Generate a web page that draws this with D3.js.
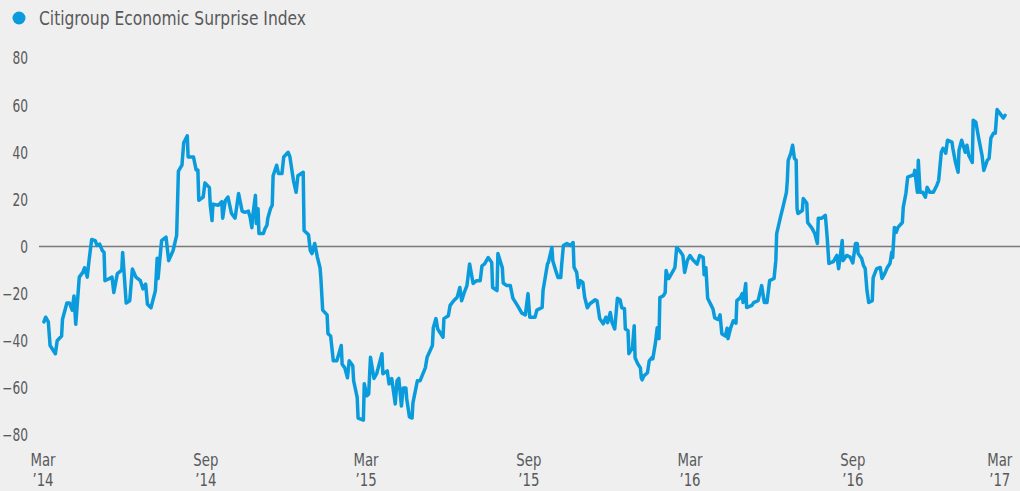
<!DOCTYPE html>
<html>
<head>
<meta charset="utf-8">
<script src="https://cdn.jsdelivr.net/npm/d3@7"></script>
<style>
  html, body { margin: 0; padding: 0; background: #efefef; }
  svg { display: block; }
  text { font-family: 'Liberation Sans Narrow', 'DejaVu Sans Condensed', 'Roboto', sans-serif; fill: #58595b; }
</style>
</head>
<body>
<svg id="chart" width="1020" height="491"></svg>
<script>
const seriesName = "Citigroup Economic Surprise Index";
const yTicks = [80, 60, 40, 20, 0, -20, -40, -60, -80];
const xTickDates = ["2014-03-01", "2014-09-01", "2015-03-01", "2015-09-01", "2016-03-01", "2016-09-01", "2017-03-01"];
const xTickMonths = ["Mar", "Sep", "Mar", "Sep", "Mar", "Sep", "Mar"];
const xTickYears = ["\u201914", "\u201914", "\u201915", "\u201915", "\u201916", "\u201916", "\u201917"];

const dates = [
"2014-03-02","2014-03-04","2014-03-07","2014-03-09","2014-03-15","2014-03-17","2014-03-22","2014-03-23","2014-03-28","2014-03-31",
"2014-04-03","2014-04-05","2014-04-07","2014-04-11","2014-04-15","2014-04-17","2014-04-20","2014-04-22","2014-04-25","2014-04-29",
"2014-05-01","2014-05-04","2014-05-07","2014-05-09","2014-05-10","2014-05-13","2014-05-18","2014-05-20","2014-05-24","2014-05-29",
"2014-05-30","2014-06-03","2014-06-07","2014-06-10","2014-06-14","2014-06-19","2014-06-22","2014-06-25","2014-06-27","2014-07-01",
"2014-07-06","2014-07-08","2014-07-09","2014-07-13","2014-07-18","2014-07-21","2014-07-26","2014-07-30","2014-08-01","2014-08-05",
"2014-08-07","2014-08-11","2014-08-12","2014-08-18","2014-08-21","2014-08-23","2014-08-24","2014-08-29","2014-08-31","2014-09-05",
"2014-09-06","2014-09-08","2014-09-09","2014-09-15","2014-09-19","2014-09-20","2014-09-23","2014-09-26","2014-09-30","2014-10-04",
"2014-10-08","2014-10-12","2014-10-15","2014-10-19","2014-10-21","2014-10-23","2014-10-24","2014-10-27","2014-10-28","2014-10-30",
"2014-10-31","2014-11-05","2014-11-07","2014-11-09","2014-11-10","2014-11-13","2014-11-15","2014-11-16","2014-11-20","2014-11-22",
"2014-11-26","2014-11-28","2014-12-03","2014-12-05","2014-12-09","2014-12-12","2014-12-14","2014-12-20","2014-12-21","2014-12-26",
"2014-12-28","2014-12-30","2015-01-02","2015-01-05","2015-01-08","2015-01-09","2015-01-11","2015-01-16","2015-01-17","2015-01-20",
"2015-01-23","2015-01-27","2015-02-01","2015-02-02","2015-02-05","2015-02-08","2015-02-10","2015-02-14","2015-02-15","2015-02-19",
"2015-02-20","2015-02-26","2015-02-27","2015-03-02","2015-03-04","2015-03-06","2015-03-10","2015-03-13","2015-03-19","2015-03-20",
"2015-03-25","2015-03-27","2015-03-30","2015-04-03","2015-04-05","2015-04-07","2015-04-10","2015-04-12","2015-04-15","2015-04-16",
"2015-04-19","2015-04-22","2015-04-23","2015-04-28","2015-05-01","2015-05-07","2015-05-09","2015-05-15","2015-05-16","2015-05-19",
"2015-05-21","2015-05-27","2015-05-28","2015-06-02","2015-06-04","2015-06-08","2015-06-12","2015-06-15","2015-06-17","2015-06-20",
"2015-06-23","2015-06-26","2015-06-30","2015-07-04","2015-07-08","2015-07-10","2015-07-13","2015-07-17","2015-07-21","2015-07-22",
"2015-07-27","2015-07-28","2015-08-02","2015-08-03","2015-08-07","2015-08-11","2015-08-14","2015-08-19","2015-08-24","2015-08-28",
"2015-08-31","2015-09-02","2015-09-08","2015-09-10","2015-09-16","2015-09-17","2015-09-22","2015-09-23","2015-09-27","2015-09-28",
"2015-10-02","2015-10-04","2015-10-07","2015-10-08","2015-10-10","2015-10-14","2015-10-18","2015-10-21","2015-10-22","2015-10-25",
"2015-10-27","2015-10-29","2015-11-01","2015-11-03","2015-11-06","2015-11-09","2015-11-15","2015-11-17","2015-11-20","2015-11-24",
"2015-11-27","2015-11-29","2015-12-02","2015-12-04","2015-12-07","2015-12-10","2015-12-13","2015-12-15","2015-12-18","2015-12-19",
"2015-12-22","2015-12-23","2015-12-27","2015-12-29","2015-12-30","2016-01-02","2016-01-05","2016-01-06","2016-01-07","2016-01-09",
"2016-01-13","2016-01-15","2016-01-18","2016-01-19","2016-01-22","2016-01-24","2016-01-26","2016-01-27","2016-01-31","2016-02-02",
"2016-02-03","2016-02-04","2016-02-06","2016-02-10","2016-02-13","2016-02-14","2016-02-15","2016-02-19","2016-02-22","2016-02-24",
"2016-02-27","2016-03-01","2016-03-04","2016-03-09","2016-03-12","2016-03-16","2016-03-17","2016-03-19","2016-03-21","2016-03-25",
"2016-03-27","2016-03-29","2016-04-02","2016-04-04","2016-04-06","2016-04-10","2016-04-12","2016-04-13","2016-04-16","2016-04-19",
"2016-04-22","2016-04-23","2016-04-27","2016-04-29","2016-04-30","2016-05-03","2016-05-04","2016-05-10","2016-05-12","2016-05-17",
"2016-05-21","2016-05-24","2016-05-27","2016-05-30","2016-06-04","2016-06-06","2016-06-07","2016-06-11","2016-06-14","2016-06-18",
"2016-06-19","2016-06-20","2016-06-23","2016-06-25","2016-06-27","2016-06-29","2016-06-30","2016-07-01","2016-07-06","2016-07-07",
"2016-07-11","2016-07-12","2016-07-17","2016-07-20","2016-07-23","2016-07-24","2016-07-28","2016-08-01","2016-08-03","2016-08-05",
"2016-08-10","2016-08-14","2016-08-16","2016-08-20","2016-08-21","2016-08-25","2016-08-29","2016-09-01","2016-09-04","2016-09-06",
"2016-09-07","2016-09-11","2016-09-13","2016-09-15","2016-09-17","2016-09-19","2016-09-23","2016-09-24","2016-09-28","2016-10-02",
"2016-10-04","2016-10-07","2016-10-10","2016-10-13","2016-10-15","2016-10-16","2016-10-18","2016-10-20","2016-10-22","2016-10-27",
"2016-10-28","2016-10-31","2016-11-02","2016-11-07","2016-11-09","2016-11-10","2016-11-13","2016-11-14","2016-11-16","2016-11-19",
"2016-11-22","2016-11-24","2016-11-27","2016-12-01","2016-12-05","2016-12-07","2016-12-10","2016-12-12","2016-12-15","2016-12-17",
"2016-12-22","2016-12-23","2016-12-26","2016-12-29","2016-12-30","2017-01-02","2017-01-06","2017-01-08","2017-01-10","2017-01-14",
"2017-01-15","2017-01-18","2017-01-21","2017-01-25","2017-01-27","2017-01-31","2017-02-02","2017-02-04","2017-02-07","2017-02-09",
"2017-02-11","2017-02-14","2017-02-18","2017-02-20"
];

const values = [
-32,-30,-32,-42,-45.5,-40,-38,-31,-24,-24,
-27,-21,-33,-13,-11,-9,-13,-6,3,2.5,
0.5,1,-1.7,-2.5,-14.5,-14,-13,-19.5,-11.5,-10,
-2.5,-24,-23,-9.5,-13,-14.5,-18,-16,-24.5,-26,
-18.7,-5,-13.6,2.5,4,-6,-1.7,4.7,32,34.5,
44,47,38,38,32.5,32.5,19.6,21,27,25,
17.5,11,18,17.5,19,12,19.5,21,14,12,
22.5,15,14.5,15,12.5,8,13,21.7,9.8,16,
5.5,5.5,7.7,9,12,16,17.5,30,34.5,31,
31,38,40,38,28,23,30,31.5,6.8,5,
-1.7,-3,1.3,-4.5,-9,-13.6,-27,-29,-37,-38,
-48.5,-48.5,-42,-50,-51.5,-55.7,-48.5,-50.6,-57,-64,
-72.8,-73.7,-58.3,-63.4,-62.6,-47,-56,-54,-45.5,-54,
-52.8,-58.3,-56,-66.8,-57,-56,-67.7,-60,-60,-64.7,
-72.3,-72.8,-66.4,-57,-57,-51.5,-47,-42,-34.5,-30.6,
-35,-38.5,-30.6,-29.4,-25,-23,-21.5,-17.4,-23,-19.5,
-16.6,-7.4,-15.7,-14.5,-14.5,-8.2,-7.4,-4.7,-6.8,-17.4,
-18.7,-3,-9,-15.5,-16.6,-16.6,-22,-25,-28.3,-29,
-20,-30,-30,-27,-25.9,-18.7,-7.4,-6.8,-0.4,-6,
-11,-13.2,-13.2,-8,0.4,1.3,0.4,1.7,-8.8,-11,
-17.4,-14.5,-15.3,-21.5,-26,-24.3,-22.6,-23,-30.6,-32.8,
-30,-32.3,-28,-32.3,-35,-22,-22.6,-26,-26.4,-35,
-35.7,-45.5,-43,-33.6,-47.2,-49.8,-51.5,-55.7,-56.6,-54.9,
-53.6,-48.5,-47.2,-47.7,-40.9,-34.5,-39.1,-21.7,-20.9,-19.6,
-10.2,-11.5,-13.6,-11,-8.9,-4.7,-0.4,-2.1,-3.8,-11,
-6,-3.8,-5.5,-7.5,-3.8,-4.7,-12,-9,-22,-25,
-26.5,-30.3,-31,-29,-37,-38,-34.7,-39.1,-34.5,-31.5,
-32.5,-23,-21.7,-20,-23.8,-15.7,-25.9,-25,-23.8,-23,
-16.6,-23.8,-23.8,-14.5,-13.6,-6,5.5,12,16.6,23,
28,36.6,39.6,43,37.4,36.6,16,14,15.3,20.4,
18.3,10.2,7.7,5.5,1.3,12,12,13.2,4,-7.2,
-6.4,-3.8,-9.4,2.5,-6,-3.8,-4.5,-7,1.3,1.3,
-3,-5.1,-8,-9.4,-18.7,-23.8,-23,-13.2,-9.4,-8.9,
-13.6,-11.5,-8.9,-7.2,-2.5,-4.7,8.1,6,8.1,10.2,
16.6,22.6,29.4,30.2,30.2,32.3,23,36.6,23,23,
20.9,25.1,23,23,26,28.1,40,41.7,39.6,45.1,
44.3,41.7,35.7,31.5,40.9,45.1,40,43,38.7,35.7,
53.6,52.8,46.4,38.7,32.3,36.6,37.4,46,48.1,48.1,
58.1,56.6,54.5,55.7
];

const W = 1020, H = 491;
const svg = d3.select("#chart");
const parse = d3.utcParse("%Y-%m-%d");
const data = dates.map((d, i) => ({ date: parse(d), value: values[i] }));

const x = d3.scaleUtc()
  .domain([parse("2014-03-01"), parse("2017-03-01")])
  .range([43, 1013]);
const y = d3.scaleLinear().domain([-80, 80]).range([435, 58]);

// horizontally condense a text element (reference uses a condensed face)
function condense(sel, k) {
  let raw = 0;
  sel.each(function () {
    const w = this.getComputedTextLength();
    raw = Math.max(raw, w);
    d3.select(this).attr("textLength", w * k).attr("lengthAdjust", "spacingAndGlyphs");
  });
  return raw;
}

svg.append("rect").attr("width", W).attr("height", H).attr("fill", "#efefef");

// Legend
const legend = svg.append("g");
legend.append("circle").attr("cx", 19).attr("cy", 18).attr("r", 6.5).attr("fill", "#0a9bdc");
legend.append("text")
  .attr("x", 39).attr("y", 25)
  .attr("font-size", 19.5)
  .attr("textLength", 267).attr("lengthAdjust", "spacingAndGlyphs")
  .text(seriesName);

// Y axis labels
const yAxis = d3.axisLeft(y).tickValues(yTicks).tickSize(0).tickPadding(0).tickFormat(d3.format("d"));
const yg = svg.append("g").attr("transform", "translate(28,0)").call(yAxis);
yg.attr("font-family", null).attr("font-size", null);
yg.select(".domain").remove();
yg.selectAll("text")
  .attr("font-size", 17)
  .attr("fill", "#58595b")
  .attr("dy", "0.35em");
condense(yg.selectAll("text"), 0.8);

// Zero line
svg.append("line")
  .attr("x1", 39).attr("x2", W)
  .attr("y1", y(0)).attr("y2", y(0))
  .attr("stroke", "#7a7a7a").attr("stroke-width", 1.5);

// X axis labels (two lines), last one justified to fit
const tickData = xTickDates.map((d, i) => ({ date: parse(d), m: xTickMonths[i], yr: xTickYears[i] }));
const xg = svg.append("g");
const labels = xg.selectAll("g.xl").data(tickData).join("g").attr("class", "xl");
labels.each(function (d) {
  const g = d3.select(this);
  const t1 = g.append("text").attr("text-anchor", "middle").attr("font-size", 18).attr("y", 466).text(d.m);
  const t2 = g.append("text").attr("text-anchor", "middle").attr("font-size", 18).attr("y", 486).text(d.yr);
  const w = Math.max(condense(t1, 0.82), condense(t2, 0.82));
  let cx = x(d.date);
  if (cx + w / 2 > W - 5) cx = W - 5 - w / 2;
  g.attr("transform", `translate(${cx},0)`);
});

// Line
const line = d3.line().x(d => x(d.date)).y(d => y(d.value));
svg.append("path")
  .datum(data)
  .attr("fill", "none")
  .attr("stroke", "#0a9bdc")
  .attr("stroke-width", 3.5)
  .attr("stroke-linejoin", "round")
  .attr("stroke-linecap", "round")
  .attr("d", line);
</script>
</body>
</html>
